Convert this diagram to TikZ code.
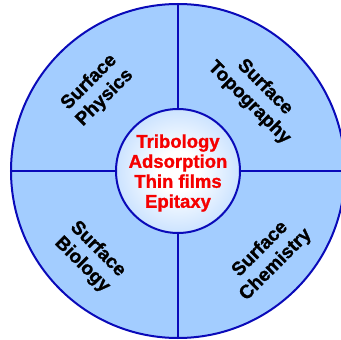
\documentclass[tikz,border=0pt]{standalone}
\usepackage{fontspec}
\setmainfont{Liberation Sans}[BoldFont={Liberation Sans Bold},BoldFeatures={FakeBold=1.2}]
\definecolor{ringline}{RGB}{10,10,185}
\definecolor{ringfill}{RGB}{163,205,255}
\definecolor{hubedge}{RGB}{128,186,255}
\definecolor{hubtext}{RGB}{245,0,0}
\pgfdeclareradialshading{hubglow}{\pgfpoint{0bp}{0bp}}{%
  color(0bp)=(white); color(8bp)=(white); color(50bp)=(hubedge)}
\tikzset{
  wheel/.style={circle, draw=ringline, fill=ringfill, line width=2pt, inner sep=0pt},
  hub/.style={circle, draw=ringline, shading=hubglow, line width=2pt, inner sep=0pt},
  divider/.style={draw=ringline, line width=2pt},
  field/.style={align=center, font=\fontsize{19}{22}\selectfont\bfseries, text=black},
  topic/.style={align=center, font=\fontsize{18.5}{20}\selectfont\bfseries, text=hubtext}
}
\begin{document}
\begin{tikzpicture}[x=1pt,y=-1pt]
  \useasboundingbox (0,0) rectangle (341,340);
  \clip (0,0) rectangle (341,340);
  % outer disc and central hub
  \node[wheel, minimum size=334pt] (outer) at (178,171) {};
  \node[hub, minimum size=124pt] (inner) at (178,171) {};
  % quadrant dividers
  \draw[divider] (outer.north) -- (inner.north);
  \draw[divider] (outer.south) -- (inner.south);
  \draw[divider] (outer.west) -- (inner.west);
  \draw[divider] (outer.east) -- (inner.east);
  % quadrant labels
  \node[field, rotate=45]  (phys) at (97,90)   {Surface\\Physics};
  \node[field, rotate=-45] (topo) at (257,95)  {Surface\\Topography};
  \node[field, rotate=-45] (bio)  at (90,257)  {Surface\\Biology};
  \node[field, rotate=45]  (chem) at (268,257) {Surface\\Chemistry};
  % hub label
  \node[topic] (topics) at (178,173) {Tribology\\Adsorption\\Thin films\\Epitaxy};
\end{tikzpicture}
\end{document}
